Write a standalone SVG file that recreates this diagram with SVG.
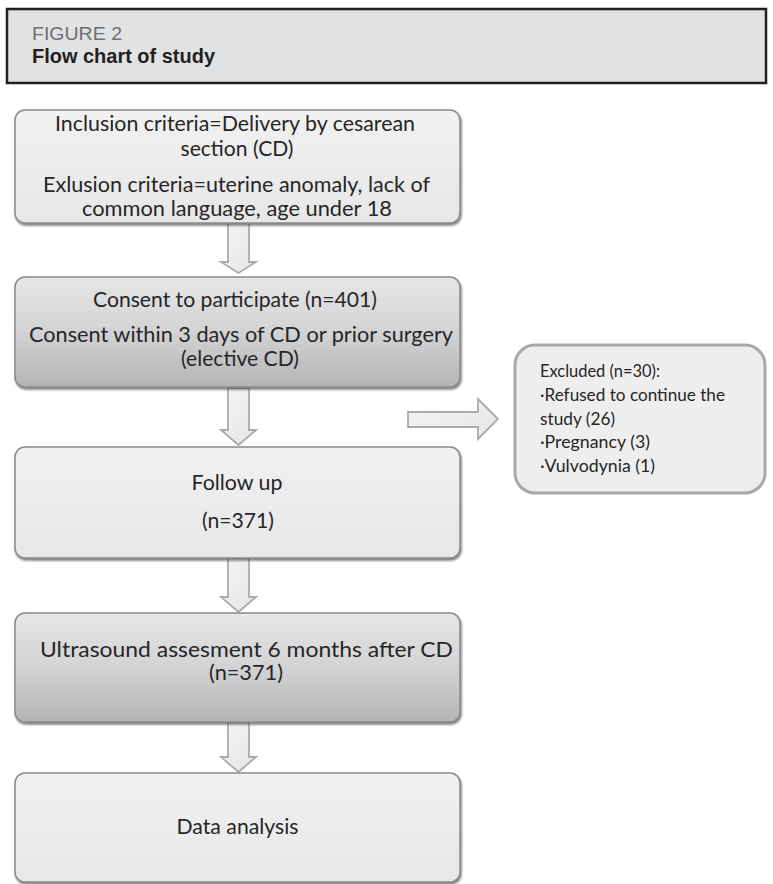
<svg xmlns="http://www.w3.org/2000/svg" width="773" height="884" viewBox="0 0 773 884">
<style>
.hdr{fill:#e1e2e4;stroke:#231f20;stroke-width:2.5}
.fig{font-family:"Liberation Sans",Arial,sans-serif;font-size:18px;fill:#6d6e71}
.ttl{font-family:"Liberation Sans",Arial,sans-serif;font-size:20px;font-weight:bold;fill:#231f20}
.box{stroke:#8a8a8a;stroke-width:1.5;filter:url(#sh)}
.light{fill:url(#gl)}
.dark{fill:url(#gd)}
.t{font-family:Lato,"Open Sans",sans-serif;font-size:21px;fill:#262626;text-anchor:middle}
.te{font-family:Lato,"Open Sans",sans-serif;font-size:17px;fill:#262626}
.arr{fill:url(#ga);stroke:#ababab;stroke-width:1.8;stroke-linejoin:miter}
.exc{fill:#eeeeee;stroke:#a8a8a8;stroke-width:3}
</style>
<defs>
<linearGradient id="gl" x1="0" y1="0" x2="0" y2="1"><stop offset="0" stop-color="#f1f1f1"/><stop offset="1" stop-color="#e7e7e7"/></linearGradient>
<linearGradient id="gd" x1="0" y1="0" x2="0" y2="1"><stop offset="0" stop-color="#e6e6e7"/><stop offset="0.5" stop-color="#d3d3d5"/><stop offset="1" stop-color="#b3b4b6"/></linearGradient>
<linearGradient id="ga" x1="0" y1="0" x2="1" y2="1"><stop offset="0" stop-color="#f6f6f6"/><stop offset="1" stop-color="#e4e4e4"/></linearGradient>
<filter id="sh" x="-5%" y="-5%" width="110%" height="115%"><feDropShadow dx="1" dy="2" stdDeviation="1" flood-color="#4a4a4a" flood-opacity="0.7"/></filter>
</defs>

<g id="header">
<rect class="hdr" x="7" y="9" width="759" height="74"/>
<text class="fig" x="32" y="40" textLength="90" lengthAdjust="spacingAndGlyphs">FIGURE 2</text>
<text class="ttl" x="32" y="63" textLength="183" lengthAdjust="spacingAndGlyphs">Flow chart of study</text>
</g>

<g id="connectors">
<path class="arr" d="M228,223 H249 V262 H256 L238.5,273 L221,262 H228 Z"/>
<path class="arr" d="M228,388 H249 V430 H256 L238.5,445 L221,430 H228 Z"/>
<path class="arr" d="M228,558 H249 V597 H256 L238.5,612 L221,597 H228 Z"/>
<path class="arr" d="M228,722 H249 V757 H256 L238.5,772 L221,757 H228 Z"/>
<path class="arr" d="M408,412 H478 V399 L498,419 L478,439 V427 H408 Z"/>
</g>

<g id="inclusion">
<rect class="box light" x="15" y="110" width="445" height="113" rx="10"/>
<text class="t" x="235" y="131" textLength="360" lengthAdjust="spacingAndGlyphs">Inclusion criteria=Delivery by cesarean</text>
<text class="t" x="237" y="156" textLength="113" lengthAdjust="spacingAndGlyphs">section (CD)</text>
<text class="t" x="236.5" y="192" textLength="387" lengthAdjust="spacingAndGlyphs">Exlusion criteria=uterine anomaly, lack of</text>
<text class="t" x="237" y="216" textLength="310" lengthAdjust="spacingAndGlyphs">common language, age under 18</text>
</g>

<g id="consent">
<rect class="box dark" x="15" y="277" width="445" height="110" rx="10"/>
<text class="t" x="235" y="307" textLength="284" lengthAdjust="spacingAndGlyphs">Consent to participate (n=401)</text>
<text class="t" x="241" y="342" textLength="424" lengthAdjust="spacingAndGlyphs">Consent within 3 days of CD or prior surgery</text>
<text class="t" x="240" y="366" textLength="118" lengthAdjust="spacingAndGlyphs">(elective CD)</text>
</g>

<g id="followup">
<rect class="box light" x="15" y="447" width="445" height="111" rx="10"/>
<text class="t" x="237" y="490" textLength="91" lengthAdjust="spacingAndGlyphs">Follow up</text>
<text class="t" x="238" y="528" textLength="72" lengthAdjust="spacingAndGlyphs">(n=371)</text>
</g>

<g id="ultrasound">
<rect class="box dark" x="15" y="613" width="445" height="109" rx="10"/>
<text class="t" x="246.5" y="657" textLength="413" lengthAdjust="spacingAndGlyphs">Ultrasound assesment 6 months after CD</text>
<text class="t" x="246" y="680" textLength="74" lengthAdjust="spacingAndGlyphs">(n=371)</text>
</g>

<g id="analysis">
<rect class="box light" x="15" y="773" width="445" height="109" rx="10"/>
<text class="t" x="237.5" y="834" textLength="122" lengthAdjust="spacingAndGlyphs">Data analysis</text>
</g>

<g id="excluded">
<rect class="exc" x="515" y="345" width="250" height="148" rx="20"/>
<text class="te" x="540" y="377" textLength="120" lengthAdjust="spacingAndGlyphs">Excluded (n=30):</text>
<text class="te" x="540" y="401" textLength="185" lengthAdjust="spacingAndGlyphs">·Refused to continue the</text>
<text class="te" x="540" y="425" textLength="75" lengthAdjust="spacingAndGlyphs">study (26)</text>
<text class="te" x="540" y="448" textLength="110" lengthAdjust="spacingAndGlyphs">·Pregnancy (3)</text>
<text class="te" x="540" y="472" textLength="115" lengthAdjust="spacingAndGlyphs">·Vulvodynia (1)</text>
</g>
</svg>
